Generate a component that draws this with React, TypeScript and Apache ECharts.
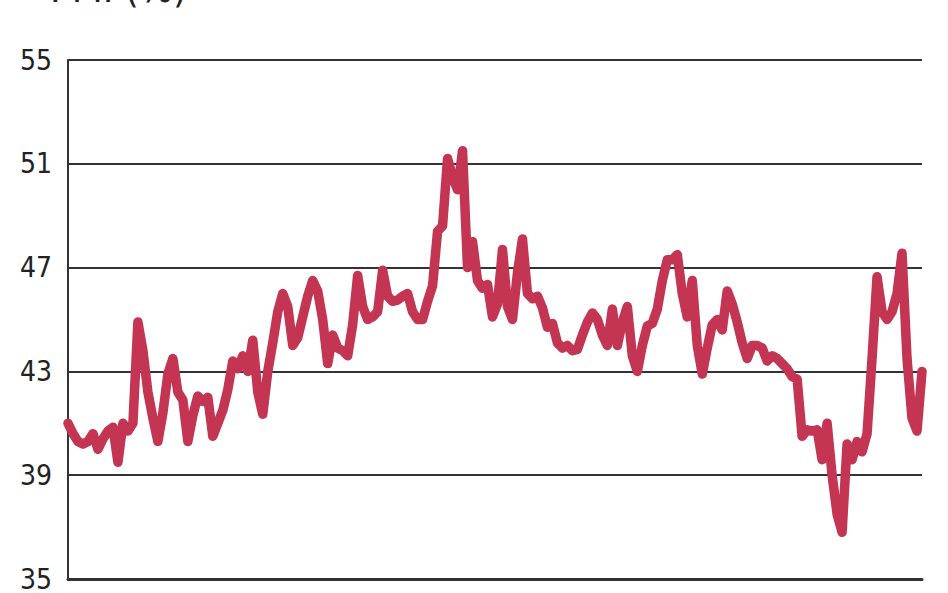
import React, { useEffect, useRef } from "react";
import * as echarts from "echarts";

const yTicks = [35, 39, 43, 47, 51, 55];
const titleText = "PMI (%)";

const values = [
  41.0, 40.6, 40.3, 40.2, 40.3, 40.6, 40.0, 40.4, 40.7, 40.85,
  39.5, 41.0, 40.7, 41.0, 44.9, 43.8, 42.2, 41.2, 40.3, 41.4,
  42.9, 43.5, 42.2, 41.9, 40.3, 41.3, 42.05, 41.85, 42.0, 40.5,
  41.0, 41.5, 42.3, 43.4, 43.1, 43.6, 43.0, 44.2, 42.2, 41.35,
  43.0, 44.1, 45.3, 46.0, 45.5, 44.0, 44.3, 45.1, 45.9, 46.5,
  46.1, 45.0, 43.3, 44.4, 43.9, 43.8, 43.6, 44.8, 46.7, 45.5,
  45.0, 45.1, 45.3, 46.9, 45.9, 45.7, 45.75, 45.9, 46.0, 45.3,
  45.0, 45.0, 45.7, 46.3, 48.4, 48.6, 51.2, 50.5, 50.0, 51.5,
  47.0, 48.0, 46.5, 46.2, 46.35, 45.1, 45.6, 47.7, 45.5, 45.0,
  46.8, 48.1, 46.0, 45.8, 45.9, 45.45, 44.7, 44.85, 44.1, 43.9,
  44.0, 43.8, 43.85, 44.4, 44.9, 45.25, 45.0, 44.4, 44.0, 45.4,
  44.0, 44.9, 45.5, 43.6, 43.0, 44.0, 44.75, 44.85, 45.4, 46.5,
  47.3, 47.3, 47.5, 46.0, 45.1, 46.5, 44.0, 42.9, 43.9, 44.8,
  45.0, 44.6, 46.1, 45.6, 44.9, 44.1, 43.5, 44.0, 44.0, 43.9,
  43.4, 43.6, 43.5, 43.3, 43.1, 42.8, 42.7, 40.5, 40.75, 40.7,
  40.75, 39.6, 41.0, 39.0, 37.5, 36.8, 40.2, 39.6, 40.3, 39.9,
  40.6, 43.5, 46.65, 45.3, 45.0, 45.3, 46.0, 47.55, 43.5, 41.2,
  40.7, 43.0,
];

const categories = values.map((_, i) => String(i + 1));

const FONT = "'DejaVu Sans Condensed', 'Liberation Sans Narrow', 'DejaVu Sans', sans-serif";

export default function App() {
  const ref = useRef<HTMLDivElement>(null);

  useEffect(() => {
    if (!ref.current) return;
    const chart = echarts.init(ref.current, null, { renderer: "svg" });
    chart.setOption({
      animation: false,
      backgroundColor: "#ffffff",
      grid: { left: 68, right: 26, top: 60, bottom: 13, containLabel: false },
      graphic: [
        {
          type: "text",
          x: 50,
          y: 8,
          style: {
            text: titleText,
            fontSize: 40,
            fontFamily: FONT,
            fill: "#222222",
            verticalAlign: "bottom",
          },
        },
      ],
      xAxis: {
        type: "category",
        data: categories,
        boundaryGap: false,
        axisLine: { show: true, lineStyle: { color: "#333333", width: 3 } },
        axisTick: { show: false },
        axisLabel: { show: false },
        splitLine: { show: false },
      },
      yAxis: {
        type: "value",
        min: yTicks[0],
        max: yTicks[yTicks.length - 1],
        interval: yTicks[1] - yTicks[0],
        axisLine: { show: true, lineStyle: { color: "#333333", width: 2 } },
        axisTick: { show: false },
        axisLabel: {
          show: true,
          color: "#222222",
          fontSize: 28,
          fontFamily: FONT,
          margin: 16,
        },
        splitLine: { show: true, lineStyle: { color: "#333333", width: 2 } },
      },
      series: [
        {
          type: "line",
          data: values,
          showSymbol: false,
          symbol: "none",
          lineStyle: { color: "#c43553", width: 9.5, join: "round", cap: "round" },
        },
      ],
    });
    return () => chart.dispose();
  }, []);

  return (
    <div
      ref={ref}
      style={{ position: "fixed", left: 0, top: 0, width: 948, height: 593 }}
    />
  );
}
